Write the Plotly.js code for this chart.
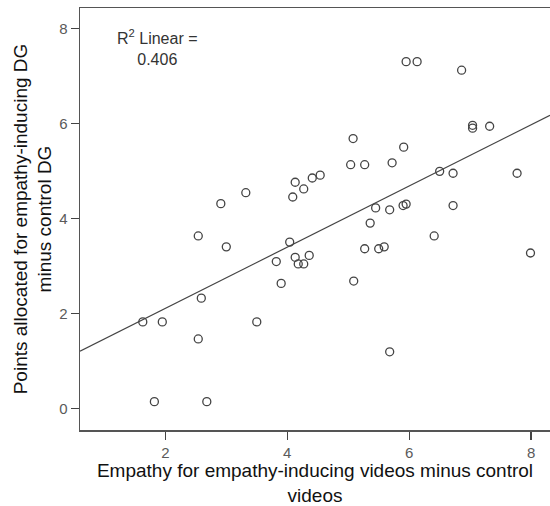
<!DOCTYPE html>
<html>
<head>
<meta charset="utf-8">
<script src="https://cdn.plot.ly/plotly-3.0.1.min.js"></script>
<style>html,body{margin:0;padding:0;background:#fff;}#chart{width:550px;height:506px;}</style>
</head>
<body>
<div id="chart"></div>
<script>
// Empathy difference (x) and points difference (y)
const empathyDiff = [1.63, 1.95, 1.82, 2.68, 2.54, 2.59, 2.54, 3.00, 2.91, 3.32,
  3.50, 3.82, 3.90, 4.04, 4.09, 4.13, 4.13, 4.18, 4.27, 4.27,
  4.36, 4.41, 4.54, 5.04, 5.08, 5.09, 5.27, 5.27, 5.36, 5.45,
  5.50, 5.59, 5.68, 5.68, 5.72, 5.91, 5.90, 5.95, 5.95, 6.13,
  6.41, 6.50, 6.72, 6.72, 6.86, 7.04, 7.04, 7.32, 7.77, 7.99];
const pointsDiff = [1.82, 1.82, 0.14, 0.14, 1.46, 2.32, 3.63, 3.40, 4.31, 4.54,
  1.82, 3.09, 2.63, 3.50, 4.45, 4.76, 3.18, 3.04, 3.04, 4.62,
  3.22, 4.85, 4.91, 5.13, 5.68, 2.68, 5.13, 3.36, 3.90, 4.22,
  3.36, 3.40, 4.18, 1.19, 5.17, 5.50, 4.27, 4.30, 7.30, 7.30,
  3.63, 4.99, 4.95, 4.27, 7.12, 5.96, 5.90, 5.94, 4.95, 3.27];
const xTicks = [2, 4, 6, 8];
const yTicks = [0, 2, 4, 6, 8];
const xRange = [0.60, 8.31];
const yRange = [-0.457, 8.43];
const r2Label = 'R<sup>2</sup> Linear =<br>0.406';
const xTitle = 'Empathy for empathy-inducing videos minus control<br>videos';
const yTitle = 'Points allocated for empathy-inducing DG<br>minus control DG';

// least-squares fit line from the data
const n = empathyDiff.length;
const mx = empathyDiff.reduce((a, b) => a + b, 0) / n;
const my = pointsDiff.reduce((a, b) => a + b, 0) / n;
let sxy = 0, sxx = 0;
for (let i = 0; i < n; i++) {
  sxy += (empathyDiff[i] - mx) * (pointsDiff[i] - my);
  sxx += (empathyDiff[i] - mx) ** 2;
}
const slope = sxy / sxx;
const intercept = my - slope * mx;
const fitX = xRange.slice();
const fitY = fitX.map(v => intercept + slope * v);

const font = 'Liberation Sans, Arial, sans-serif';

const traces = [
  {
    x: fitX, y: fitY, type: 'scatter', mode: 'lines',
    line: {color: '#444', width: 1.2}, hoverinfo: 'skip', showlegend: false
  },
  {
    x: empathyDiff, y: pointsDiff, type: 'scatter', mode: 'markers',
    marker: {symbol: 'circle-open', size: 8, color: '#444', line: {width: 1.3, color: '#444'}},
    showlegend: false
  }
];

const layout = {
  width: 550, height: 506,
  margin: {l: 80, r: 0, t: 8, b: 76, autoexpand: false},
  paper_bgcolor: '#fff', plot_bgcolor: '#fff',
  font: {family: font, color: '#222'},
  xaxis: {
    range: xRange, tickvals: xTicks, ticktext: xTicks.map(String),
    ticks: 'outside', ticklen: 8, tickwidth: 1.2, tickcolor: '#444',
    showline: true, mirror: true, linecolor: '#555', linewidth: 1.5,
    showgrid: false, zeroline: false, automargin: true,
    tickfont: {family: font, size: 15, color: '#5a5a5a'},
    title: {text: xTitle, font: {family: font, size: 19, color: '#111'}, standoff: 9}
  },
  yaxis: {
    range: yRange, tickvals: yTicks, ticktext: yTicks.map(String),
    ticks: 'outside', ticklen: 8, tickwidth: 1.2, tickcolor: '#444',
    showline: true, mirror: true, linecolor: '#555', linewidth: 1.5,
    showgrid: false, zeroline: false,
    tickfont: {family: font, size: 15, color: '#5a5a5a'},
    title: {text: yTitle, font: {family: font, size: 19, color: '#111'}, standoff: 2}
  },
  annotations: [{
    text: r2Label, xref: 'paper', yref: 'paper', x: 0.164, y: 0.907,
    xanchor: 'center', yanchor: 'middle', align: 'center', showarrow: false,
    font: {family: font, size: 16, color: '#333'}
  }]
};

Plotly.newPlot('chart', traces, layout, {displayModeBar: false, staticPlot: true});
</script>
</body>
</html>
